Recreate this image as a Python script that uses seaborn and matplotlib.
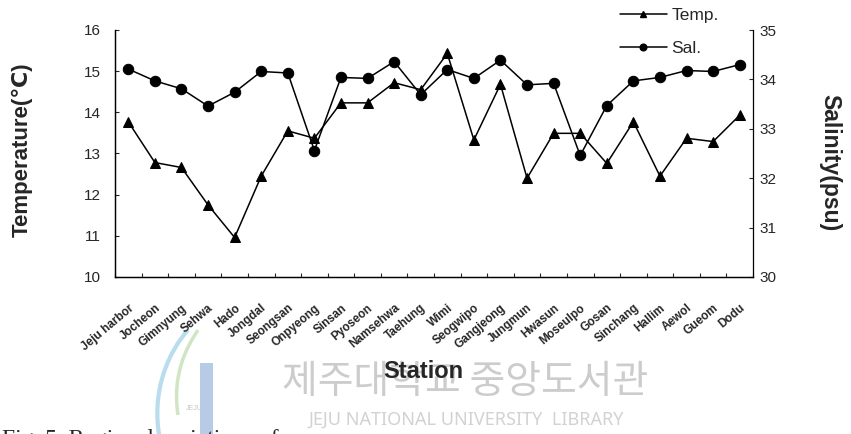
import numpy as np
import pandas as pd
import matplotlib
matplotlib.use("Agg")
import matplotlib.pyplot as plt
import matplotlib.transforms as mtransforms
import seaborn as sns
from matplotlib.lines import Line2D
from matplotlib.patches import Rectangle, PathPatch
from matplotlib.path import Path

# Station-by-station surface temperature and salinity around Jeju
stations = ["Jeju harbor", "Jocheon", "Gimnyung", "Sehwa", "Hado", "Jongdal",
            "Seongsan", "Onpyeong", "Sinsan", "Pyoseon", "Namsehwa", "Taehung",
            "Wimi", "Seogwipo", "Gangjeong", "Jungmun", "Hwasun", "Moseulpo",
            "Gosan", "Sinchang", "Hallim", "Aewol", "Gueom", "Dodu"]
temperature = [13.77, 12.78, 12.66, 11.75, 10.96, 12.45, 13.55, 13.37, 14.23,
               14.23, 14.72, 14.55, 15.43, 13.33, 14.68, 12.40, 13.49, 13.49,
               12.76, 13.77, 12.45, 13.37, 13.29, 13.93]
salinity = [34.21, 33.97, 33.81, 33.46, 33.74, 34.16, 34.13, 32.56, 34.04,
            34.02, 34.36, 33.69, 34.20, 34.02, 34.39, 33.89, 33.92, 32.46,
            33.47, 33.97, 34.04, 34.18, 34.16, 34.30]
temp_ticks = [10, 11, 12, 13, 14, 15, 16]
sal_ticks = [30, 31, 32, 33, 34, 35]

sns.set_style("ticks")
plt.rcParams["font.family"] = ["Liberation Sans", "DejaVu Sans"]

W, H = 851, 434
fig = plt.figure(figsize=(W / 100, H / 100), dpi=100)
fig.patch.set_facecolor("white")

# --- library watermark (drawn first, behind everything) ---
arc1 = Path([(160 / W, 1 - 440 / H), (150 / W, 1 - 390 / H), (170 / W, 1 - 350 / H), (188 / W, 1 - 330 / H)],
            [Path.MOVETO, Path.CURVE4, Path.CURVE4, Path.CURVE4])
arc2 = Path([(178 / W, 1 - 415 / H), (172 / W, 1 - 375 / H), (186 / W, 1 - 348 / H), (198 / W, 1 - 330 / H)],
            [Path.MOVETO, Path.CURVE4, Path.CURVE4, Path.CURVE4])
fig.add_artist(PathPatch(arc1, transform=fig.transFigure, fill=False, lw=3, ec="#b9dcef", zorder=0))
fig.add_artist(PathPatch(arc2, transform=fig.transFigure, fill=False, lw=2.5, ec="#cfe5c4", zorder=0))
fig.add_artist(Rectangle((200 / W, 0), 13 / W, 71 / H, transform=fig.transFigure,
                         fc="#b8cbe6", ec="none", zorder=0))
fig.text(194 / W, 1 - 408 / H, "JEJU", fontsize=5, color="#c8c8c8", ha="center", va="center", zorder=0)
fig.text(465 / W, 1 - 382 / H, "제주대학교 중앙도서관", fontsize=28, color="#cccccc",
         ha="center", va="center", family=["Noto Sans CJK KR", "DejaVu Sans"], zorder=0)
fig.text(466 / W, 1 - 420 / H, "JEJU NATIONAL UNIVERSITY  LIBRARY", fontsize=13, color="#d2d2d2",
         ha="center", va="center", family=["Noto Sans", "DejaVu Sans"], zorder=0)

# --- plot area ---
ax = fig.add_axes([115 / W, 1 - 277 / H, (753 - 115) / W, (277 - 30) / H])
ax.patch.set_alpha(0)
ax2 = ax.twinx()

pos = np.arange(len(stations))
df = pd.DataFrame({"pos": pos, "Temp.": temperature, "Sal.": salinity})

sns.lineplot(data=df, x="pos", y="Temp.", ax=ax, color="black", lw=1.1,
             marker="^", markersize=7.5, markeredgecolor="black", legend=False)
sns.lineplot(data=df, x="pos", y="Sal.", ax=ax2, color="black", lw=1.1,
             marker="o", markersize=7.5, markeredgecolor="black", legend=False)

ax.set_xlim(-0.5, len(stations) - 0.5)
ax.set_ylim(10, 16)
ax2.set_ylim(30, 35)
ax.set_yticks(temp_ticks)
ax2.set_yticks(sal_ticks)
ax.set_xlabel("")
ax.set_ylabel("")
ax2.set_ylabel("")

ax.set_xticks(pos)
ax.set_xticklabels(stations, rotation=40, ha="right", va="top", rotation_mode="anchor",
                   fontsize=8.5, fontweight="bold")
shift = mtransforms.ScaledTranslation(-18 / 100, 0, fig.dpi_scale_trans)
for lbl in ax.get_xticklabels():
    lbl.set_transform(lbl.get_transform() + shift)
ax.set_xticks(np.arange(len(stations) + 1) - 0.5, minor=True)
ax.tick_params(axis="x", which="major", length=0, pad=18)
ax.tick_params(axis="x", which="minor", direction="in", length=3, width=0.8)
ax.tick_params(axis="y", direction="in", length=3, width=0.8, labelsize=11, pad=10)
ax2.tick_params(axis="y", direction="in", length=3, width=0.8, labelsize=11, pad=5)

for a in (ax, ax2):
    a.spines["top"].set_visible(False)
    for s in a.spines.values():
        s.set_linewidth(0.9)
        s.set_color("black")
ax.spines["right"].set_visible(False)

# --- labels ---
fig.text(22 / W, 1 - 150 / H, "Temperature(\u2103)", rotation=90, ha="center", va="center",
         fontsize=16, fontweight="bold")
fig.text(830 / W, 1 - 163 / H, "Salinity(psu)", rotation=270, ha="center", va="center",
         fontsize=16.5, fontweight="bold")
fig.text(423 / W, 1 - 372 / H, "Station", ha="center", va="center", fontsize=17,
         fontweight="bold", zorder=5)

# --- legend ---
handles = [Line2D([], [], color="black", lw=1.1, marker="^", markersize=4.8),
           Line2D([], [], color="black", lw=1.1, marker="o", markersize=4.8)]
fig.legend(handles, ["Temp.", "Sal."], loc="upper left", bbox_to_anchor=(620 / W, 1 - 8 / H),
           frameon=False, fontsize=12.5, handlelength=2.7, handletextpad=0.25,
           labelspacing=1.0, borderaxespad=0, borderpad=0)

# --- caption ---
fig.text(2 / W, 1 - 445 / H, "Fig. 5. Regional variations of", ha="left", va="baseline",
         fontsize=17, family=["Liberation Serif", "DejaVu Serif"])

fig.savefig("out.png", dpi=100, facecolor="white")
